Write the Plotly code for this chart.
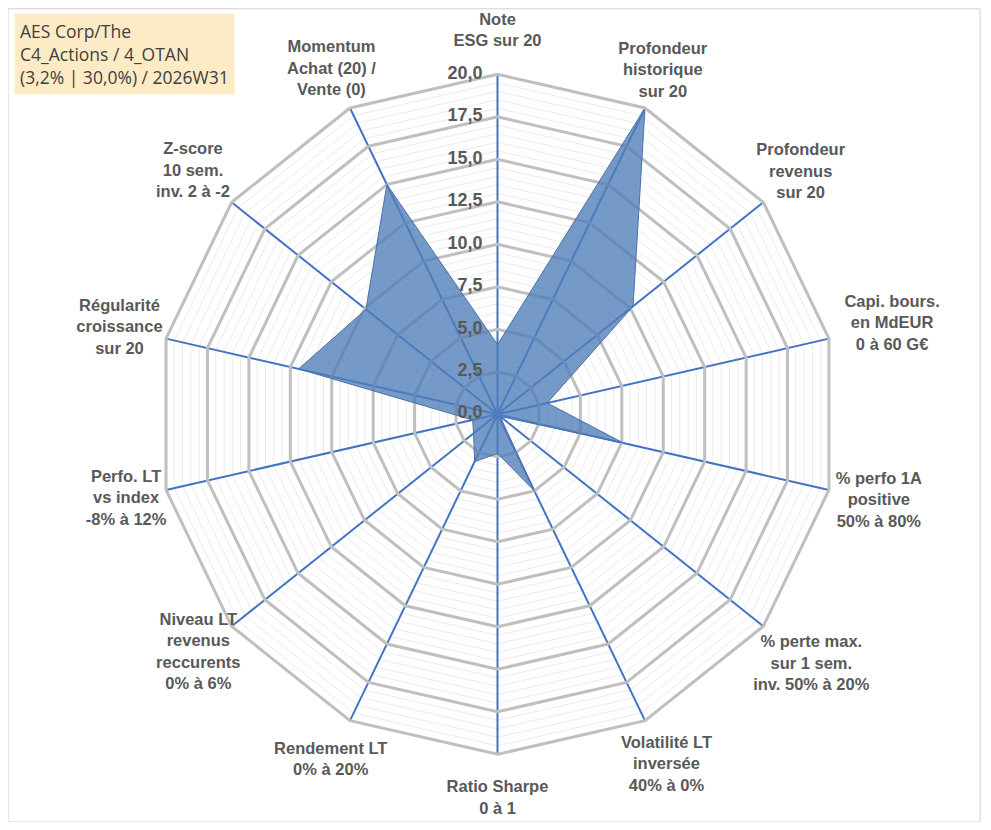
import plotly.graph_objects as go

# Critères (axes du radar) et notes sur 20
criteres = [
    "Note<br>ESG sur 20",
    "Profondeur<br>historique<br>sur 20",
    "Profondeur<br>revenus<br>sur 20",
    "Capi. bours.<br>en MdEUR<br>0 à 60 G€",
    "% perfo 1A<br>positive<br>50% à 80%",
    "% perte max.<br>sur 1 sem.<br>inv. 50% à 20%",
    "Volatilité LT<br>inversée<br>40% à 0%",
    "Ratio Sharpe<br>0 à 1",
    "Rendement LT<br>0% à 20%",
    "Niveau LT<br>revenus<br>reccurents<br>0% à 6%",
    "Perfo. LT<br>vs index<br>-8% à 12%",
    "Régularité<br>croissance<br>sur 20",
    "Z-score<br>10 sem.<br>inv. 2 à -2",
    "Momentum<br>Achat (20) /<br>Vente (0)",
]
notes = [4.1, 20.0, 10.2, 3.0, 7.6, 0.2, 5.0, 2.3, 3.1, 1.8, 1.5, 12.0, 9.9, 15.0]
graduations = [0, 2.5, 5, 7.5, 10, 12.5, 15, 17.5, 20]

titre = "AES Corp/The<br>C4_Actions / 4_OTAN<br>(3,2% | 30,0%) / 2026W31"

gris = "#595959"
# la page html a une marge de 8 px, d'où 975 x 814
W, H = 975, 814
cx, cy, R = 489.5, 407.7, 340.0   # centre (px depuis la gauche / le bas) et rayon
r_max_lib = 23.85                 # échelle élargie pour les libellés
# distance des libellés au centre (mise en page)
pos_libelles = [22.5, 22.4, 22.8, 23.8, 23.0, 23.6, 22.9, 22.6, 22.6, 22.5, 22.4, 22.8, 22.9, 22.5]


def domaine(rayon):
    return dict(x=[(cx - rayon) / W, (cx + rayon) / W],
                y=[(cy - rayon) / H, (cy + rayon) / H])


fig = go.Figure()

# fond : grille fine tous les 0,5
fig.add_trace(go.Scatterpolar(r=[0] * len(criteres), theta=criteres, mode="lines",
                              line=dict(width=0), hoverinfo="skip", showlegend=False,
                              subplot="polar"))

# la série
fig.add_trace(go.Scatterpolar(
    r=notes + notes[:1], theta=criteres + criteres[:1],
    mode="lines", fill="toself",
    fillcolor="rgba(79,125,185,0.78)",
    line=dict(color="#4A72AE", width=1),
    hoverinfo="r+theta", showlegend=False, subplot="polar2"))

# graduations de l'axe radial (le 0 est légèrement décalé pour rester affiché)
fig.add_trace(go.Scatterpolar(
    r=[max(g, 0.03) for g in graduations], theta=[criteres[0]] * len(graduations),
    mode="text", text=[f"{g:.1f}".replace(".", ",") + "   " for g in graduations],
    textposition="middle left", cliponaxis=False,
    textfont=dict(size=18, color=gris, family="Liberation Sans, Arial", weight="bold"),
    hoverinfo="skip", showlegend=False, subplot="polar3"))

# libellés des critères
fig.add_trace(go.Scatterpolar(
    r=pos_libelles, theta=criteres,
    mode="text", text=criteres, textposition="middle center", cliponaxis=False,
    textfont=dict(size=16.5, color=gris, family="Liberation Sans, Arial", weight="bold"),
    hoverinfo="skip", showlegend=False, subplot="polar3"))

axe_cache = dict(categoryarray=criteres, type="category", rotation=90,
                 direction="clockwise", showticklabels=False, ticks="",
                 showgrid=False, showline=False)

fig.update_layout(
    width=W, height=H,
    margin=dict(l=0, r=0, t=0, b=0),
    paper_bgcolor="white",
    font=dict(family="Liberation Sans, Arial, sans-serif", color=gris),
    polar=dict(
        domain=domaine(R),
        gridshape="linear",
        bgcolor="white",
        radialaxis=dict(range=[0, 20], dtick=0.5, showticklabels=False, ticks="",
                        showline=False, gridcolor="#EBEBEB", gridwidth=1, angle=90),
        angularaxis=axe_cache,
    ),
    polar2=dict(
        domain=domaine(R),
        gridshape="linear",
        bgcolor="rgba(0,0,0,0)",
        radialaxis=dict(range=[0, 20], tickvals=graduations, showticklabels=False,
                        showline=False, ticks="", angle=90,
                        gridcolor="#BFBFBF", gridwidth=3, layer="below traces"),
        angularaxis=dict(categoryarray=criteres, type="category", rotation=90,
                         direction="clockwise", ticks="", showticklabels=False,
                         showline=True, linecolor="#BFBFBF", linewidth=3,
                         gridcolor="#4472C4", gridwidth=1.6, layer="above traces"),
    ),
    polar3=dict(
        domain=domaine(R * (r_max_lib + 0.01) / 20),
        gridshape="linear",
        bgcolor="rgba(0,0,0,0)",
        radialaxis=dict(range=[-0.01, r_max_lib], showticklabels=False, ticks="",
                        showline=False, showgrid=False, angle=90),
        angularaxis=axe_cache,
    ),
    annotations=[dict(
        text=titre, xref="paper", yref="paper", x=0.006, y=0.994,
        xanchor="left", yanchor="top", align="left", showarrow=False,
        bgcolor="#FDEBC6", borderpad=5,
        font=dict(family="Open Sans, Liberation Sans, sans-serif", size=17.5, color="#404040"),
    )],
    shapes=[
        dict(type="rect", xref="paper", yref="paper", x0=0.0, y0=0.0, x1=0.997, y1=0.999,
             line=dict(color="#D0D0D0", width=1)),
    ],
)

fig.write_html("out.html")
